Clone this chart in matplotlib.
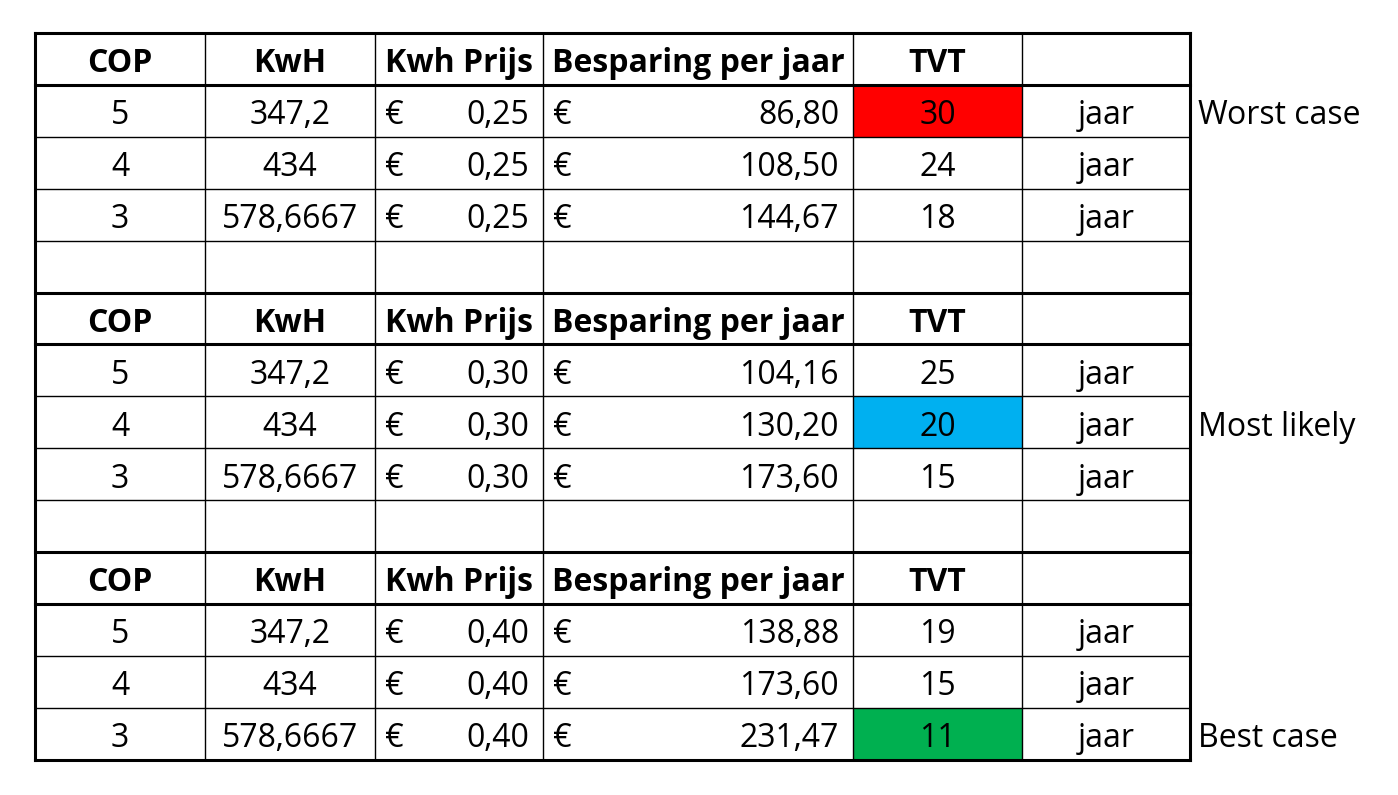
import matplotlib.pyplot as plt

headers = ["COP", "KwH", "Kwh Prijs", "Besparing per jaar", "TVT", ""]
cop = [5, 4, 3]
kwh = ["347,2", "434", "578,6667"]
prices = ["0,25", "0,30", "0,40"]
savings = [["86,80", "108,50", "144,67"],
           ["104,16", "130,20", "173,60"],
           ["138,88", "173,60", "231,47"]]
tvt = [[30, 24, 18], [25, 20, 15], [19, 15, 11]]
highlight = {(0, 0): ("#ff0000", "Worst case"),
             (1, 1): ("#00b0f0", "Most likely"),
             (2, 2): ("#00b050", "Best case")}

col_x = [35, 205, 375, 543, 853, 1022, 1190]
top, row_h = 33, 51.9
font = "Open Sans"
fs = 23

fig = plt.figure(figsize=(13.98, 7.95), dpi=100)
ax = fig.add_axes([0, 0, 1, 1])
ax.set_xlim(0, 1398)
ax.set_ylim(795, 0)
ax.axis("off")

def ry(r):
    return top + r * row_h

def txt(x, r, s, ha="center", bold=False):
    ax.text(x, ry(r) + row_h / 2 + 5, s, ha=ha, va="center", fontsize=fs,
            family=font, fontweight="bold" if bold else "normal", color="black")

n_rows = 14
for b in range(3):
    r0 = b * 5
    for c, h in enumerate(headers):
        txt((col_x[c] + col_x[c + 1]) / 2, r0, h, bold=True)
    for i in range(3):
        r = r0 + 1 + i
        key = (b, i)
        if key in highlight:
            color, label = highlight[key]
            ax.fill_between([col_x[4], col_x[5]], ry(r), ry(r + 1), color=color, lw=0)
            ax.text(1198, ry(r) + row_h / 2 + 5, label, ha="left", va="center",
                    fontsize=fs, family=font)
        txt((col_x[0] + col_x[1]) / 2, r, str(cop[i]))
        txt((col_x[1] + col_x[2]) / 2, r, kwh[i])
        txt(col_x[2] + 10, r, "€", ha="left")
        txt(col_x[3] - 14, r, prices[b], ha="right")
        txt(col_x[3] + 10, r, "€", ha="left")
        txt(col_x[4] - 14, r, savings[b][i], ha="right")
        txt((col_x[4] + col_x[5]) / 2, r, str(tvt[b][i]))
        txt((col_x[5] + col_x[6]) / 2, r, "jaar")

thick = {0, 1, 5, 6, 10, 11, 14}
for r in range(n_rows + 1):
    ax.plot([col_x[0], col_x[-1]], [ry(r), ry(r)], color="black",
            lw=2.2 if r in thick else 1.0)
for i, x in enumerate(col_x):
    ax.plot([x, x], [ry(0), ry(n_rows)], color="black",
            lw=2.2 if i in (0, len(col_x) - 1) else 1.0)

fig.savefig("out.png", dpi=100)
